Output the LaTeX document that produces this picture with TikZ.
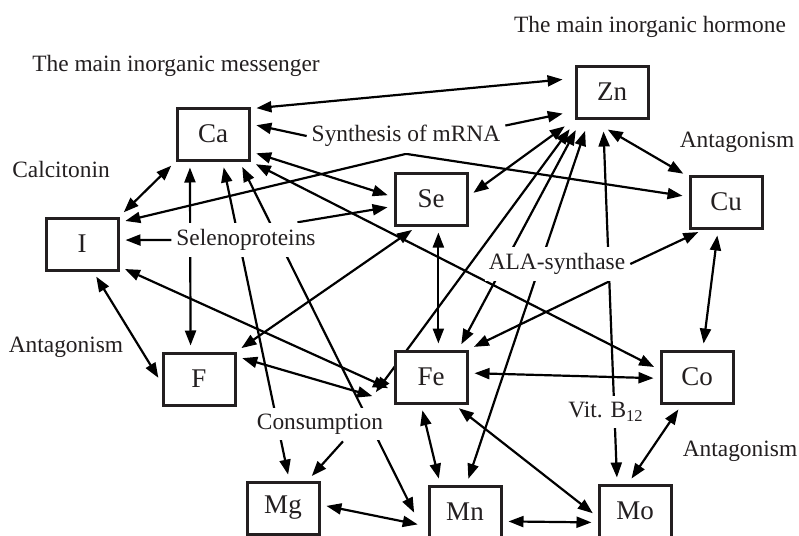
\documentclass[tikz,border=0pt]{standalone}
\usepackage{fontspec}
\setmainfont{Liberation Serif}
\usetikzlibrary{arrows.meta,backgrounds}
\definecolor{ink}{RGB}{35,31,32}
\tikzset{
  >=Triangle,
  every picture/.append style={line width=1.1pt},
}

\begin{document}
\begin{tikzpicture}[
  x=0.5pt, y=-0.5pt, color=ink,
  element/.style={rectangle, draw, line width=1.5pt, fill=white,
                  minimum width=36pt, minimum height=26pt, inner sep=0pt,
                  font=\fontsize{13.5}{16}\selectfont},
  note/.style={fill=white, inner xsep=2pt, inner ysep=3pt,
               font=\fontsize{11.7}{14}\selectfont},
  link/.style={-{Triangle[length=7.5pt,width=5.5pt]}, line width=1.1pt, shorten >=3pt},
  twoway/.style={{Triangle[length=7.5pt,width=5.5pt]}-{Triangle[length=7.5pt,width=5.5pt]},
                 line width=1.1pt, shorten >=3pt, shorten <=3pt},
  far/.style={shorten >=6pt}
]
\useasboundingbox (0,0) rectangle (799,536);

% Elements
\node[element] (Ca) at (213,134) {Ca};
\node[element] (Zn) at (612,92) {Zn};
\node[element] (Se) at (431,199) {Se};
\node[element] (Cu) at (726,202) {Cu};
\node[element] (I) at (82,244) {I};
\node[element] (F) at (199,379) {F};
\node[element] (Fe) at (431,377) {Fe};
\node[element] (Co) at (697,377) {Co};
\node[element] (Mg) at (283,508) {Mg};
\node[element] (Mn) at (465,512) {Mn};
\node[element] (Mo) at (635,511) {Mo};

% Labels
\node[note] (hormone) at (650,27) {The main inorganic hormone};
\node[note] (messenger) at (176,66) {The main inorganic messenger};
\node[note] (calcitonin) at (61,169) {Calcitonin};
\node[note] (mrna) at (406,136) {Synthesis of mRNA};
\node[note] (antagCu) at (737,142) {Antagonism};
\node[note] (seleno) at (246,240) {Selenoproteins};
\node[note] (ala) at (557,264) {ALA-synthase};
\node[note] (antagF) at (66,347) {Antagonism};
\node[note] (consumption) at (320,424) {Consumption};
\node[note] (vitb) at (606,412) {Vit. B\textsubscript{12}};
\node[note] (antagMo) at (740,451) {Antagonism};

% Connections (behind the labels)
\begin{scope}[on background layer]
% Ca
\draw[twoway, far] (Ca.34) -- (Zn.160);
\draw[twoway] (Ca.-25) -- (Se.177);
\draw[twoway] (Ca.south east) -- (Co.169);
\draw[twoway] (I.north east) -- (Ca.south west);
\draw[twoway] (Ca.-130) -- (F.107);
\draw[twoway] (Ca.-71) -- (Mg.77);
\draw[twoway, shorten >=15pt] (Ca.-46) -- (Mn.south west);

% Synthesis of mRNA
\draw[link] (mrna.west) -- (Ca.15);
\draw[link, far] (mrna.6) -- (Zn.207);
\draw[link] (mrna.south) -- (I.30);
\draw[link] (mrna.south) -- (Cu.172);

% Selenoproteins
\draw[link] (seleno.west) -- (I.6);
\draw[link] (seleno.19) -- (Se.191);

% Zn
\draw[twoway, far] (Se.4) -- (Zn.216);
\draw[twoway, shorten >=10pt] (Cu.146) -- (Zn.232);
\draw[twoway, far] (Fe.45) -- (Zn.222);
\draw[twoway, far] (Mn.87) -- (Zn.230);
\draw[twoway, far] (Mo.123) -- (Zn.252);
\draw[twoway, far, shorten <=9pt] (consumption.21) -- (Zn.218);

% Se, I, F
\draw[twoway] (Se.243) -- (F.north east);
\draw[twoway] (Se.-75) -- (Fe.75);
\draw[twoway] (I.-31) -- (Fe.200);
\draw[twoway] (I.-68) -- (F.186);
\draw[twoway, shorten >=11pt] (F.31) -- (Fe.214);

% Fe
\draw[twoway] (Fe.6) -- (Co.182);
\draw[twoway] (Fe.250) -- (Mn.132);
\draw[twoway] (Fe.-50) -- (Mo.189);

% ALA-synthase
\draw[link] (ala.-19) -- (Fe.north east);
\draw[link] (ala.east) -- (Cu.231);

% Co
\draw[twoway] (Cu.254) -- (Co.78);
\draw[twoway] (Co.241) -- (Mo.104);

% bottom row
\draw[link] (consumption.-37) -- (Mg.48);
\draw[twoway, shorten >=5pt] (Mg.5) -- (Mn.201);
\draw[twoway] (Mn.-14) -- (Mo.197);
\end{scope}

\end{tikzpicture}
\end{document}
